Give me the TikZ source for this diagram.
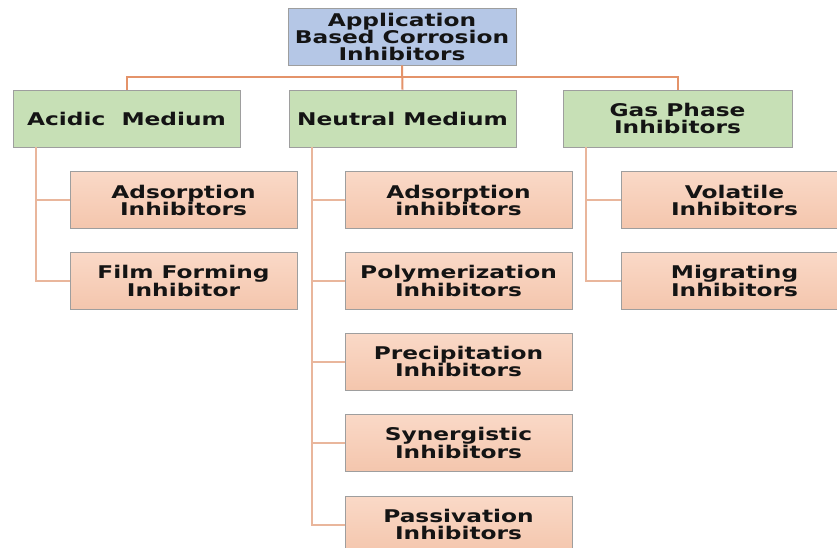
\documentclass[tikz,border=0pt]{standalone}
\usepackage{fontspec}
\newfontfamily\labfont{DejaVu Sans}[FakeStretch=1.33]
\begin{document}
\begin{tikzpicture}[x=1pt,y=-1pt,
  every node/.style={font=\labfont\bfseries\fontsize{17.5}{17}\selectfont,
    text=black!92, align=center, inner sep=0pt, draw=black!38, line width=0.8pt},
  rootbox/.style={fill=rootblue, minimum width=228pt, minimum height=57pt},
  groupbox/.style={fill=groupgreen, minimum width=227pt, minimum height=57pt},
  leafbox/.style={top color=leaftop, bottom color=leafbot, minimum width=227pt, minimum height=57pt},
  mainlink/.style={draw=linkorange, line width=2pt},
  leaflink/.style={draw=linkpeach, line width=2pt}]
\definecolor{rootblue}{HTML}{B5C7E6}
\definecolor{groupgreen}{HTML}{C7E0B6}
\definecolor{leaftop}{HTML}{FAD9C7}
\definecolor{leafbot}{HTML}{F4C6AD}
\definecolor{linkorange}{HTML}{E4936A}
\definecolor{linkpeach}{HTML}{E9B69C}
\useasboundingbox (0,0) rectangle (837,548);
\clip (0,0) rectangle (837,548);
\fill[white] (0,0) rectangle (837,548);

% top level and the three media
\node[rootbox] (root) at (402,36.5) {Application\\Based Corrosion\\Inhibitors};
\node[groupbox] (acid) at (126.5,118.5) {Acidic\ \ Medium};
\node[groupbox] (neut) at (402.5,118.5) {Neutral Medium};
\node[groupbox, minimum width=229pt] (gas) at (677.5,118.5) {Gas Phase\\Inhibitors};

% inhibitor types
\node[leafbox] (a1) at (183.5,200) {Adsorption\\Inhibitors};
\node[leafbox] (a2) at (183.5,281) {Film Forming\\Inhibitor};
\node[leafbox] (n1) at (458.5,200) {Adsorption\\inhibitors};
\node[leafbox] (n2) at (458.5,281) {Polymerization\\Inhibitors};
\node[leafbox] (n3) at (458.5,361.5) {Precipitation\\Inhibitors};
\node[leafbox] (n4) at (458.5,443) {Synergistic\\Inhibitors};
\node[leafbox] (n5) at (458.5,524.5) {Passivation\\Inhibitors};
\node[leafbox] (g1) at (734.5,200) {Volatile\\Inhibitors};
\node[leafbox] (g2) at (734.5,281) {Migrating\\Inhibitors};

% connectors
\draw[mainlink] (root.south) -- (neut.north);
\draw[mainlink] (acid.north) -- ++(0,-12.5) -| (gas.north);
\foreach \g/\l in {acid/a1, acid/a2, neut/n1, neut/n2, neut/n3, neut/n4, neut/n5, gas/g1, gas/g2}
  \draw[leaflink] ([xshift=23pt]\g.south west) |- (\l.west);
\end{tikzpicture}
\end{document}
